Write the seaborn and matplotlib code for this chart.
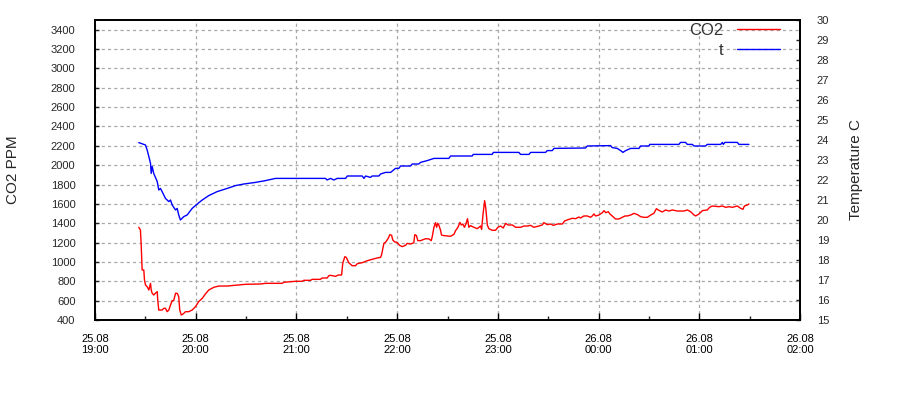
import matplotlib
matplotlib.use("Agg")
import matplotlib.pyplot as plt
import seaborn as sns
import pandas as pd
from matplotlib.ticker import MultipleLocator

# minutes after 25.08 19:00
co2_min = [26.1, 27.1, 27.5, 28.1, 29.1, 29.5, 30.1, 31.1, 32.1, 32.6, 33.1, 33.5, 34.1, 35.0, 36.0, 37.1, 37.4,
           38.0, 40.0, 41.0, 42.0, 43.0, 44.0, 45.0, 46.0, 46.9, 48.0, 49.0, 49.9, 50.5, 51.4, 52.5, 53.9, 55.9,
           57.9, 59.9, 61.8, 63.9, 65.8, 67.8, 70.8, 73.8, 78.8, 89.7, 98.6, 101.6, 111.5, 112.5, 119.5, 123.4,
           124.4, 128.4, 129.4, 134.3, 135.3, 138.3, 139.3, 140.3, 143.3, 144.9, 146.9, 147.6, 148.8, 149.7,
           151.2, 153.2, 155.2, 156.2, 159.2, 162.2, 165.2, 168.1, 170.1, 170.7, 172.1, 173.1, 174.7, 175.6,
           176.7, 177.4, 178.6, 180.0, 181.4, 183.0, 185.0, 186.0, 188.0, 189.9, 190.5, 191.5, 192.3, 193.9,
           195.9, 196.9, 198.9, 200.3, 200.9, 201.9, 202.9, 203.5, 204.2, 204.8, 205.8, 206.4, 207.8, 211.8,
           213.8, 214.8, 216.2, 217.4, 218.2, 219.1, 220.1, 221.1, 221.9, 222.7, 223.7, 225.7, 227.7, 229.7,
           230.3, 231.1, 232.1, 232.8, 233.7, 234.6, 236.6, 238.6, 240.0, 241.6, 243.2, 244.6, 246.0, 248.6,
           250.6, 253.5, 255.5, 257.5, 259.5, 261.4, 264.4, 266.4, 267.4, 269.4, 271.4, 273.0, 275.4, 278.4,
           279.7, 282.3, 284.3, 286.3, 288.2, 289.2, 291.2, 293.2, 295.2, 296.2, 297.2, 298.2, 300.2, 302.2,
           303.2, 304.2, 305.8, 306.7, 308.1, 310.1, 312.1, 314.1, 315.7, 317.1, 319.1, 321.1, 323.1, 325.0,
           327.0, 329.0, 331.0, 332.9, 334.4, 335.9, 337.9, 339.9, 341.9, 343.9, 346.9, 350.8, 352.8, 354.8,
           356.8, 357.8, 359.8, 361.8, 364.7, 366.1, 367.7, 371.7, 373.7, 375.7, 377.6, 379.6, 382.6, 384.6,
           386.0, 386.8, 388.6, 389.5]
co2_ppm = [1358, 1330, 1192, 917, 917, 813, 762, 744, 710, 744, 779, 710, 676, 658, 676, 693, 607,
           503, 503, 521, 521, 486, 503, 555, 600, 600, 676, 676, 641, 503, 452, 462, 486, 486,
           503, 538, 590, 624, 669, 710, 738, 751, 751, 769, 772, 779, 779, 790, 800, 800,
           810, 810, 820, 820, 834, 834, 858, 862, 851, 865, 865, 986, 1054, 1047,
           992, 961, 961, 982, 992, 1013, 1027, 1041, 1047, 1072, 1192, 1203, 1244, 1282,
           1275, 1227, 1206, 1203, 1172, 1158, 1172, 1192, 1185, 1199, 1282, 1272, 1220, 1220,
           1234, 1240, 1238, 1220, 1261, 1358, 1406, 1358, 1399, 1382, 1330, 1278, 1272, 1265,
           1285, 1323, 1358, 1409, 1382, 1392, 1358, 1399, 1447, 1358, 1375, 1358, 1344, 1371,
           1337, 1485, 1633, 1554, 1382, 1344, 1327, 1327, 1358, 1371, 1351, 1399, 1382, 1382,
           1358, 1358, 1371, 1371, 1378, 1358, 1371, 1382, 1406, 1385, 1392, 1378, 1392, 1392,
           1423, 1440, 1451, 1447, 1464, 1454, 1475, 1475, 1461, 1475, 1496, 1475, 1485, 1509,
           1530, 1509, 1519, 1496, 1475, 1444, 1444, 1461, 1475, 1475, 1485, 1502, 1489, 1468,
           1461, 1461, 1485, 1502, 1550, 1533, 1516, 1537, 1526, 1537, 1526, 1526, 1537, 1519,
           1485, 1475, 1496, 1530, 1537, 1564, 1578, 1571, 1578, 1564, 1571, 1564, 1578, 1554,
           1544, 1578, 1588, 1599]

t_min = [26.1, 30.1, 31.1, 32.1, 33.1, 33.5, 34.1, 35.0, 37.1, 38.0, 39.0, 40.0, 42.0, 44.0, 45.0, 46.0,
         48.0, 49.0, 49.9, 50.9, 52.9, 54.9, 57.9, 60.9, 63.9, 67.8, 72.8, 78.8, 83.7, 88.7, 95.6, 101.6,
         107.5, 137.3, 138.3, 140.3, 142.3, 144.3, 149.3, 150.3, 159.2, 160.2, 161.2, 164.1, 165.1, 169.1,
         170.1, 173.1, 176.1, 179.0, 181.0, 182.0, 188.0, 189.0, 192.9, 193.9, 197.9, 201.9, 210.8, 211.8,
         224.7, 225.3, 236.6, 237.3, 252.5, 253.5, 258.5, 259.5, 268.4, 269.4, 272.4, 273.4, 292.2, 293.2,
         307.1, 308.1, 311.1, 313.1, 314.5, 316.1, 319.1, 324.0, 325.0, 330.0, 330.4, 347.8, 348.8, 351.8,
         352.8, 355.8, 356.8, 363.7, 364.7, 372.7, 373.7, 374.3, 375.2, 382.6, 383.6, 389.5]
t_deg = [23.87, 23.75, 23.5, 23.17, 22.83, 22.33, 22.67, 22.33, 21.92, 21.5, 21.58, 21.42, 21.08, 20.92, 21.0, 20.75,
         20.5, 20.58, 20.25, 20.0, 20.17, 20.25, 20.58, 20.8, 21.0, 21.22, 21.42, 21.58, 21.72, 21.8, 21.88, 21.97,
         22.08, 22.08, 22.0, 22.08, 22.0, 22.08, 22.08, 22.2, 22.2, 22.08, 22.2, 22.13, 22.2, 22.2,
         22.3, 22.38, 22.38, 22.58, 22.58, 22.7, 22.7, 22.8, 22.8, 22.88, 22.97, 23.08, 23.08, 23.2,
         23.2, 23.28, 23.28, 23.38, 23.38, 23.28, 23.28, 23.38, 23.38, 23.47, 23.47, 23.58, 23.6, 23.7,
         23.72, 23.62, 23.58, 23.47, 23.38, 23.47, 23.58, 23.58, 23.7, 23.7, 23.78, 23.78, 23.88, 23.88,
         23.78, 23.78, 23.7, 23.7, 23.78, 23.78, 23.88, 23.78, 23.88, 23.88, 23.78, 23.78]

x_ticks = [0, 60, 120, 180, 240, 300, 360, 420]
x_labels = ["25.08\n19:00", "25.08\n20:00", "25.08\n21:00", "25.08\n22:00",
            "25.08\n23:00", "26.08\n00:00", "26.08\n01:00", "26.08\n02:00"]
co2_ticks = list(range(400, 3401, 200))
t_ticks = list(range(15, 31))

sns.set_style("ticks")
plt.rcParams["font.family"] = ["Liberation Sans", "DejaVu Sans"]

fig = plt.figure(figsize=(9, 4), dpi=100)
ax = fig.add_axes([0.1055, 0.2, 0.7835, 0.75])
ax2 = ax.twinx()

df_co2 = pd.DataFrame({"min": co2_min, "ppm": co2_ppm})
df_t = pd.DataFrame({"min": t_min, "deg": t_deg})

sns.lineplot(data=df_co2, x="min", y="ppm", ax=ax, color="#ff0000", lw=1, estimator=None, label="CO2", legend=False)
sns.lineplot(data=df_t, x="min", y="deg", ax=ax2, color="#0000ff", lw=1, estimator=None, label="t", legend=False)

ax.set_xlim(0, 420)
ax.set_ylim(400, 3500)
ax2.set_ylim(15, 30)

ax.set_xticks(x_ticks)
ax.set_xticklabels(x_labels, fontsize=8)
ax.xaxis.set_minor_locator(MultipleLocator(30))
ax.set_yticks(co2_ticks)
ax.set_yticklabels([str(v) for v in co2_ticks], fontsize=8)
ax2.set_yticks(t_ticks)
ax2.set_yticklabels([str(v) for v in t_ticks], fontsize=8)

ax.tick_params(axis="x", which="major", direction="in", length=5, width=1, pad=10, colors="black")
ax.tick_params(axis="x", which="minor", direction="in", length=3, width=1)
ax.tick_params(axis="y", direction="in", length=3, width=1, pad=14)
ax2.tick_params(axis="y", direction="in", length=3, width=1, pad=12)

ax.set_xlabel("")
ax.set_ylabel("CO2 PPM", fontsize=11, labelpad=22)
ax2.set_ylabel("Temperature C", fontsize=11, labelpad=14, rotation=90)

grid_kw = dict(color="#a8a8a8", linestyle=(0, (2.5, 2.5)), linewidth=0.9)
ax.grid(True, axis="y", which="major", **grid_kw)
ax.grid(True, axis="x", which="major", **grid_kw)
ax.set_axisbelow(True)

for a in (ax, ax2):
    for s in a.spines.values():
        s.set_color("black")
        s.set_linewidth(1.3)

h1, l1 = ax.get_legend_handles_labels()
h2, l2 = ax2.get_legend_handles_labels()
leg = ax2.legend(h1 + h2, l1 + l2, loc="upper right", bbox_to_anchor=(0.984, 1.018),
                 frameon=False, markerfirst=False,
                 fontsize=12, handlelength=2.6, borderaxespad=0.1, labelspacing=0.3,
                 handletextpad=0.8)
for t in leg.get_texts():
    t.set_color("#333333")

fig.savefig("out.png", dpi=100)
